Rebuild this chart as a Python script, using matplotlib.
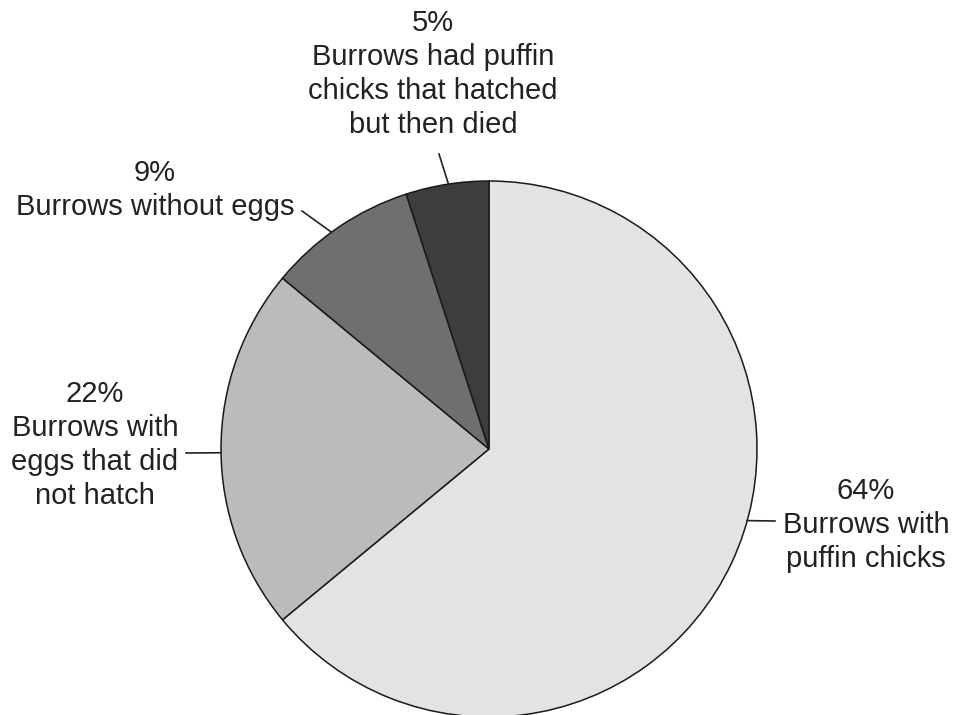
import numpy as np
import matplotlib
matplotlib.use('Agg')
import matplotlib.pyplot as plt

plt.rcParams['font.family'] = ['Liberation Sans', 'DejaVu Sans']

labels = ['Burrows with\npuffin chicks',
          'Burrows with\neggs that did\nnot hatch',
          'Burrows without eggs',
          'Burrows had puffin\nchicks that hatched\nbut then died']
values = [64, 22, 9, 5]
colors = ['#e3e3e3', '#bbbbbb', '#6f6f6f', '#3d3d3d']

# label layout (pixel space, y down): text centre, leader angle on the rim, leader outer end
text_pos = [(866, 525), (95, 445), (155, 190), (433, 74)]
leader_ang = [-15.5, 180.8, 126.0, 98.7]
leader_end = [(775, 521), (186, 453), (302, 211), (439, 154)]

W, H = 955, 715
cx, cy, r = 489, 449, 268

fig = plt.figure(figsize=(W / 100, H / 100), dpi=100)
ax = fig.add_axes([0, 0, 1, 1])

ax.pie(values, colors=colors, startangle=90, counterclock=False,
       center=(cx, H - cy), radius=r, frame=True,
       wedgeprops=dict(edgecolor='#1a1a1a', linewidth=1.1))
ax.set_xlim(0, W)
ax.set_ylim(0, H)
ax.set_aspect('equal')
ax.axis('off')

for v, lab, (tx, ty), a, (ex, ey) in zip(values, labels, text_pos, leader_ang, leader_end):
    ax.text(tx, H - ty, f'{v}%\n{lab}', ha='center', va='center',
            fontsize=21, color='#222222', linespacing=1.27)
    sx = cx + r * np.cos(np.radians(a))
    sy = (H - cy) + r * np.sin(np.radians(a))
    ax.plot([sx, ex], [sy, H - ey], color='#222222', lw=1.2)

fig.savefig('out.png', dpi=100)
